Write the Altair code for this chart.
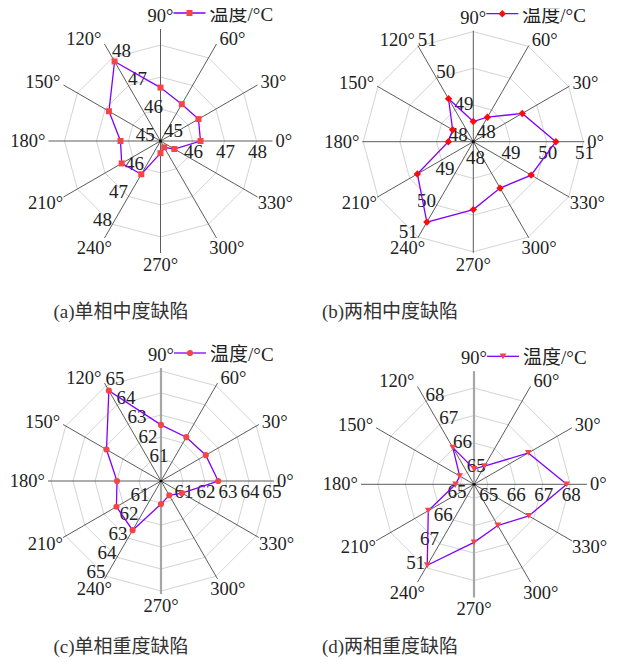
import altair as alt
import pandas as pd

# ---------------- data ----------------
angles = [0, 30, 60, 90, 120, 150, 180, 210, 240, 270, 300, 330]
angle_labels = ["0°", "30°", "60°", "90°", "120°", "150°", "180°", "210°",
                "240°", "270°", "300°", "330°"]

temp_a = [46.25, 46.37, 46.33, 46.67, 47.87, 46.86, 46.25, 46.40, 46.20, 45.38, 45.23, 45.50]
temp_b = [50.25, 49.54, 48.77, 48.55, 49.35, 48.65, 48.68, 49.76, 50.53, 49.85, 49.46, 49.82]
temp_c = [62.60, 62.35, 62.30, 62.55, 64.74, 62.86, 62.00, 62.34, 62.58, 61.05, 60.75, 61.10]
temp_d = [67.87, 66.78, 65.26, 65.06, 66.04, 65.10, 65.17, 66.42, 67.90, 66.61, 66.23, 66.80]

rings_a = [46, 47, 48]
rings_b = [49, 50, 51]
rings_c = [61, 62, 63, 64, 65]
rings_d = [65, 66, 67, 68]

label_axes = [0, 120, 240]
ticks_a = {0: ["46", "47", "48"], 120: ["46", "47", "48"], 240: ["46", "47", "48"]}
ticks_b = {0: ["49", "50", "51"], 120: ["49", "50", "51"], 240: ["49", "50", "51"]}
ticks_c = {0: ["61", "62", "63", "64", "65"], 120: ["61", "62", "63", "64", "65"],
           240: ["61", "62", "63", "64", "65"]}
ticks_d = {0: ["65", "66", "67", "68"], 120: ["65", "66", "67", "68"],
           240: ["65", "66", "67", "51"]}

center_a = {0: "45", 120: "45"}
center_b = {0: "48", 120: "48", 240: "48"}
center_c = {}
center_d = {}

captions = ["(a)单相中度缺陷", "(b)两相中度缺陷", "(c)单相重度缺陷", "(d)两相重度缺陷"]
legend_text = "温度/°C"

# ---------------- styling / layout ----------------
W, H = 603, 649
FONT = "Liberation Serif, Noto Sans CJK SC"
FS = 18.5
LINE_COLOR = "#8000ff"
XS = alt.Scale(domain=[0, W], nice=False, zero=False)
YS = alt.Scale(domain=[0, H], nice=False, zero=False, reverse=True)


def X(f):
    return alt.X(f, type="quantitative", scale=XS, axis=None)


def Y(f):
    return alt.Y(f, type="quantitative", scale=YS, axis=None)


def panel(temps, vmin, ppu, rings, ticks, centers, cx, cy, spoke_r,
          shape, msize, mcolor, caption, cap_x, cap_y, thick_vertical):
    layers = []
    rad = "datum.angle*PI/180"

    # rings (12-gons)
    ring_df = pd.DataFrame([{"ring": r, "angle": a} for r in rings for a in angles])
    layers.append(
        alt.Chart(ring_df).transform_calculate(
            rr=f"(datum.ring - {vmin})*{ppu}"
        ).transform_calculate(
            x=f"{cx} + datum.rr*cos({rad})", y=f"{cy} - datum.rr*sin({rad})"
        ).mark_line(interpolate="linear-closed", color="#d4d4d4", strokeWidth=1)
        .encode(x=X("x"), y=Y("y"), detail="ring:N", order="angle:Q")
    )

    # spokes
    spoke_df = pd.DataFrame({"angle": angles})
    layers.append(
        alt.Chart(spoke_df).transform_calculate(
            x0=f"{cx}", y0=f"{cy}",
            x1=f"{cx} + {spoke_r}*cos({rad})", y1=f"{cy} - {spoke_r}*sin({rad})"
        ).mark_rule(color="#4a4a4a", strokeWidth=0.9)
        .encode(x=X("x0"), y=Y("y0"), x2="x1:Q", y2="y1:Q")
    )
    if thick_vertical:
        layers.append(
            alt.Chart(pd.DataFrame({"angle": [90]})).transform_calculate(
                x0=f"{cx}", y0=f"{cy} - {spoke_r}", y1=f"{cy} + {spoke_r}"
            ).mark_rule(color="#a6a6a6", strokeWidth=2.2)
            .encode(x=X("x0"), y=Y("y0"), y2="y1:Q")
        )

    # radial tick labels
    rows = []
    for ax in label_axes:
        for r, t in zip(rings, ticks[ax]):
            rows.append({"angle": ax, "value": r, "text": t, "c": 0})
        if ax in centers:
            rows.append({"angle": ax, "value": vmin, "text": centers[ax], "c": 1})
    tick_df = pd.DataFrame(rows)
    layers.append(
        alt.Chart(tick_df).transform_calculate(
            rr=f"(datum.value - {vmin})*{ppu}"
        ).transform_calculate(
            x=f"datum.c == 1 ? {cx} + 13*cos({rad}) - 10*sin({rad}) : "
              f"{cx} + (datum.rr + 1)*cos({rad}) + 11*sin({rad})",
            y=f"datum.c == 1 ? {cy} - 13*sin({rad}) - 10*cos({rad}) : "
              f"{cy} - (datum.rr + 1)*sin({rad}) + 11*cos({rad})",
        ).mark_text(font=FONT, fontSize=19, color="#222", align="center", baseline="middle")
        .encode(x=X("x"), y=Y("y"), text="text:N")
    )

    # angle labels placed beside the spoke ends
    alab_df = pd.DataFrame({"angle": angles, "label": angle_labels})
    layers.append(
        alt.Chart(alab_df).transform_calculate(
            hw=f"(length(datum.label) - 1)*{FS/4} + {FS*0.2}",
            co=f"cos({rad})", si=f"sin({rad})",
        ).transform_calculate(
            ddx="(abs(datum.co) < 0.01 ? 0 : (datum.co > 0 ? 1 : -1)*(datum.hw + 3))"
                "*(datum.si < -0.01 ? abs(datum.co) : 1)",
            ddy="datum.si > 0.01 ? (datum.si > 0.99 ? -13 : -6*datum.si) : -12*datum.si",
        ).transform_calculate(
            x=f"{cx} + {spoke_r}*datum.co + datum.ddx",
            y=f"{cy} - {spoke_r}*datum.si + datum.ddy",
        ).mark_text(font=FONT, fontSize=FS, color="#222", align="center", baseline="middle")
        .encode(x=X("x"), y=Y("y"), text="label:N")
    )

    # data polygon
    data_df = pd.DataFrame({"angle": angles, "temp": temps})
    base = alt.Chart(data_df).transform_calculate(
        rr=f"(datum.temp - {vmin})*{ppu}"
    ).transform_calculate(
        x=f"{cx} + datum.rr*cos({rad})", y=f"{cy} - datum.rr*sin({rad})"
    )
    layers.append(
        base.mark_line(interpolate="linear-closed", color=LINE_COLOR, strokeWidth=1.3)
        .encode(x=X("x"), y=Y("y"), order="angle:Q")
    )
    layers.append(
        base.mark_point(shape=shape, filled=True, size=msize, color=mcolor, opacity=1)
        .encode(x=X("x"), y=Y("y"))
    )
    # centre dot
    layers.append(
        alt.Chart(pd.DataFrame({"c": [0]})).mark_point(
            shape="circle", filled=True, size=10, color="#111", opacity=1)
        .encode(x=alt.value(cx), y=alt.value(cy))
    )

    # legend
    leg_df = pd.DataFrame({"t": [legend_text]})
    layers.append(
        alt.Chart(leg_df).mark_rule(color=LINE_COLOR, strokeWidth=1.3)
        .encode(x=alt.value(cx + 13), x2=alt.value(cx + 45), y=alt.value(cy - 128))
    )
    layers.append(
        alt.Chart(leg_df).mark_point(shape=shape, filled=True, size=msize, color=mcolor, opacity=1)
        .encode(x=alt.value(cx + 29), y=alt.value(cy - 128))
    )
    layers.append(
        alt.Chart(leg_df).mark_text(font=FONT, fontSize=19, color="#222", align="left",
                                    baseline="middle")
        .encode(x=alt.value(cx + 49), y=alt.value(cy - 126), text="t:N")
    )

    # caption
    layers.append(
        alt.Chart(pd.DataFrame({"t": [caption]})).mark_text(
            font=FONT, fontSize=19, color="#333", align="center", baseline="middle")
        .encode(x=alt.value(cap_x), y=alt.value(cap_y), text="t:N")
    )
    return layers


all_layers = []
all_layers += panel(temp_a, 45, 32.0, rings_a, ticks_a, center_a, 152.5, 133, 112,
                    "square", 36, "#f84444", captions[0], 113, 304, False)
all_layers += panel(temp_b, 48, 36.7, rings_b, ticks_b, center_b, 465.3, 133.7, 111,
                    "diamond", 55, "#ff0a0a", captions[1], 382, 304, False)
all_layers += panel(temp_c, 60, 22.0, rings_c, ticks_c, center_c, 153, 473, 113,
                    "circle", 38, "#f84444", captions[2], 113, 639, True)
all_layers += panel(temp_d, 64.5, 27.5, rings_d, ticks_d, center_d, 466, 476.3, 113,
                    "triangle-down", 45, "#f84444", captions[3], 382, 639, True)

chart = alt.layer(*all_layers).properties(
    width=W, height=H, padding=0,
    autosize=alt.AutoSizeParams(type="none"),
    background="white",
).configure_view(stroke=None)

chart.save("out.html", embed_options={"renderer": "svg", "actions": False})
